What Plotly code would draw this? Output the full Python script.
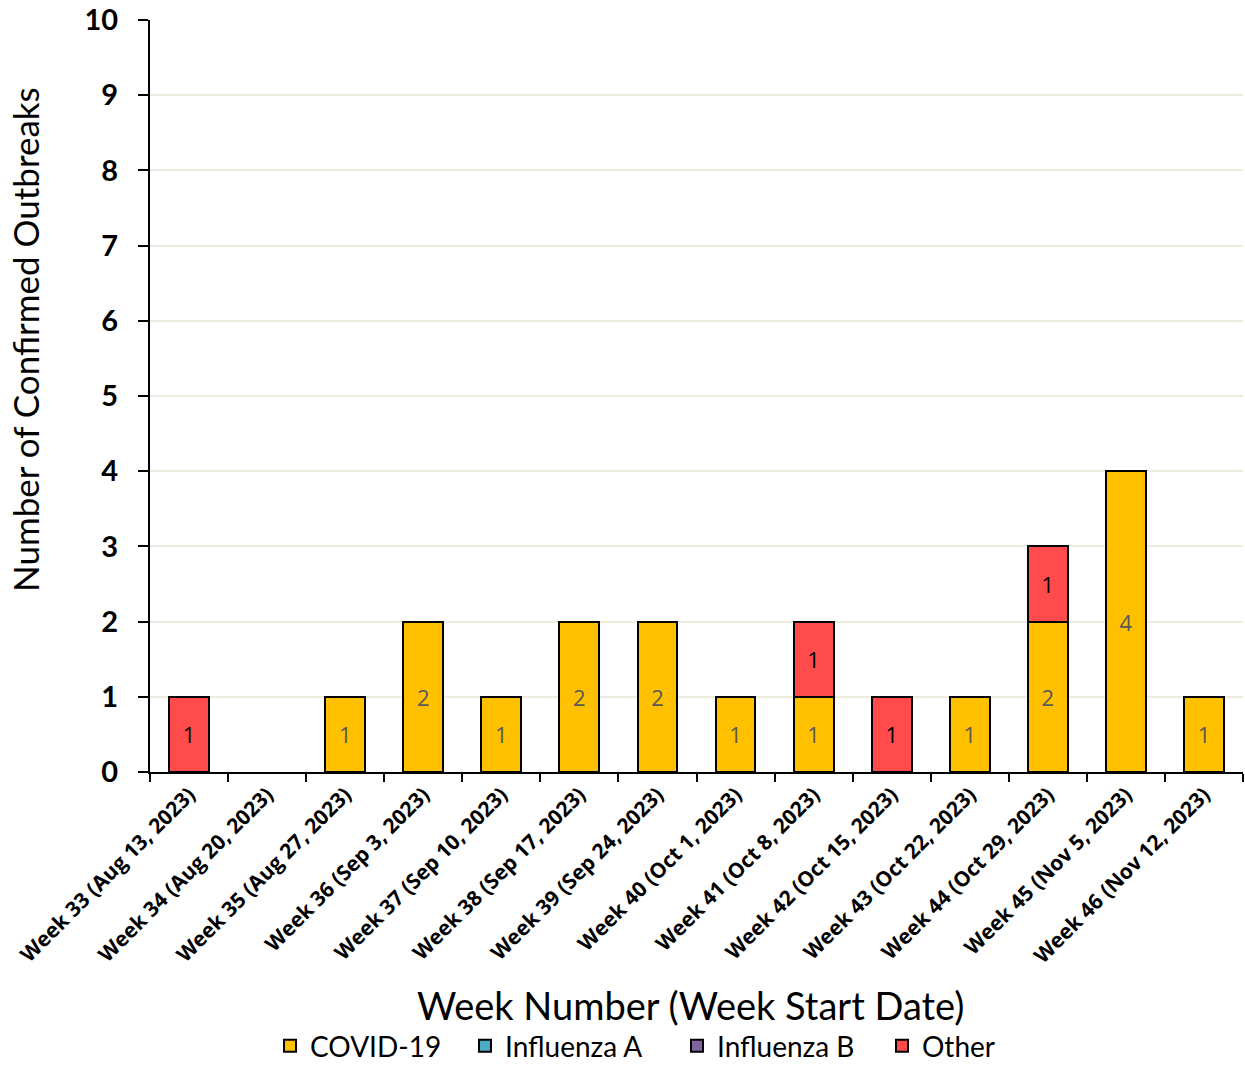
import plotly.graph_objects as go

weeks = ["Week 33 (Aug 13, 2023)", "Week 34 (Aug 20, 2023)", "Week 35 (Aug 27, 2023)",
         "Week 36 (Sep 3, 2023)", "Week 37 (Sep 10, 2023)", "Week 38 (Sep 17, 2023)",
         "Week 39 (Sep 24, 2023)", "Week 40 (Oct 1, 2023)", "Week 41 (Oct 8, 2023)",
         "Week 42 (Oct 15, 2023)", "Week 43 (Oct 22, 2023)", "Week 44 (Oct 29, 2023)",
         "Week 45 (Nov 5, 2023)", "Week 46 (Nov 12, 2023)"]
covid = [0, 0, 1, 2, 1, 2, 2, 1, 1, 0, 1, 2, 4, 1]
flu_a = [0] * 14
flu_b = [0] * 14
other = [1, 0, 0, 0, 0, 0, 0, 0, 1, 1, 0, 1, 0, 0]

series = [
    ("COVID-19", covid, "#FFC000", "#595959"),
    ("Influenza A", flu_a, "#4BACC6", "#000000"),
    ("Influenza B", flu_b, "#8064A2", "#000000"),
    ("Other", other, "#FF4B4B", "#000000"),
]

FONT = "Lato"
# figure is a little taller than the window; the extra strip at the bottom is blank
W, H = 1245, 1085
L, R, T = 150, 2, 20
PLOT_BOTTOM = 772
B = H - PLOT_BOTTOM
PW, PH = W - L - R, H - T - B

def px_x(x):
    return (x - L) / PW

def px_y(y):
    return (PLOT_BOTTOM - y) / PH

legend_ids = ["legend", "legend2", "legend3", "legend4"]
legend_left = [270, 465, 677, 882]

fig = go.Figure()
for (name, vals, color, tcolor), lid in zip(series, legend_ids):
    yv = [v if v else None for v in vals]
    fig.add_trace(go.Bar(
        x=weeks, y=yv, name=name, legend=lid,
        marker=dict(color=color, line=dict(color="#000000", width=2)),
        text=[str(v) if v else "" for v in vals],
        textposition="inside", insidetextanchor="middle", textangle=0,
        textfont=dict(family="Open Sans", size=22, color=tcolor),
        cliponaxis=False,
    ))

legend_layout = {}
for lid, lx in zip(legend_ids, legend_left):
    legend_layout[lid] = dict(
        orientation="h", x=px_x(lx), xanchor="left",
        y=px_y(1046), yanchor="middle",
        font=dict(family=FONT, size=28, color="#000000"),
        itemwidth=30, bgcolor="rgba(0,0,0,0)",
    )

fig.update_layout(
    barmode="stack",
    bargap=0.49,
    width=W, height=H,
    paper_bgcolor="white", plot_bgcolor="white",
    margin=dict(l=L, r=R, t=T, b=B),
    font=dict(family=FONT, color="#000000"),
    showlegend=True,
    xaxis=dict(
        tickangle=-45, tickfont=dict(family="Open Sans", size=21, weight="bold"),
        showline=True, linecolor="#000000", linewidth=2,
        ticks="outside", tickson="boundaries", ticklen=8, tickwidth=2, tickcolor="#000000",
        showgrid=False, automargin=False,
    ),
    yaxis=dict(
        range=[0, 10], dtick=1,
        tickfont=dict(family=FONT, size=29, weight="bold"),
        showline=True, linecolor="#000000", linewidth=2,
        ticks="outside", ticklen=10, tickwidth=2, tickcolor="#000000",
        ticklabelstandoff=14,
        showgrid=True, gridcolor="#EEECE1", gridwidth=2,
        zeroline=False, automargin=False,
    ),
    annotations=[
        dict(text="Number of Confirmed Outbreaks", xref="paper", yref="paper",
             x=px_x(25), y=px_y(340), xanchor="center", yanchor="middle",
             textangle=-90, showarrow=False, font=dict(family=FONT, size=35, color="#000000")),
        dict(text="Week Number (Week Start Date)", xref="paper", yref="paper",
             x=px_x(690), y=px_y(1005), xanchor="center", yanchor="middle",
             showarrow=False, font=dict(family=FONT, size=38, color="#000000")),
    ],
    **legend_layout,
)

fig.write_html("out.html", config={"displayModeBar": False},
               post_script="document.body.style.margin='0';document.body.style.overflow='hidden';")
